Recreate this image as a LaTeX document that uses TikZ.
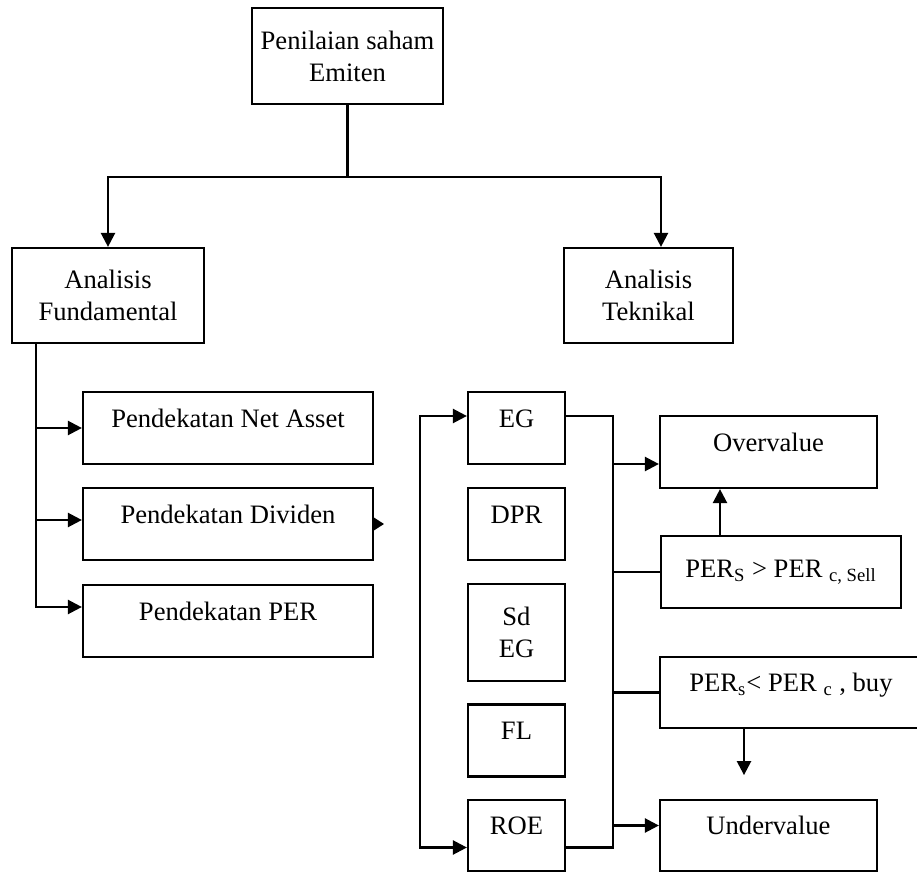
\documentclass[tikz,border=0pt]{standalone}
\usepackage{fontspec}
\setmainfont{Liberation Serif}
\usetikzlibrary{arrows.meta,positioning}

\begin{document}
\begin{tikzpicture}[x=0.5pt,y=-0.5pt,
    box/.style={draw,line width=1.1pt,align=center,inner sep=0pt,font=\fontsize{13.3}{16}\selectfont},
    uptext/.style={text height=9pt,text depth=10pt},
    ln/.style={line width=1.2pt},
    arr/.style={ln,-{Triangle[length=7pt,width=7pt]}},
    dbl/.style={ln,{Triangle[length=7pt,width=7pt]}-{Triangle[length=7pt,width=7pt]}}
  ]
  \useasboundingbox (0,0) rectangle (917,872);
  % top and the two analyses
  \node[box,minimum width=95.5pt,minimum height=48pt] (emiten) at (347.5,56) {Penilaian saham\\Emiten};
  \node[box,minimum width=96pt,minimum height=47.5pt] (fund) at (108,295.5) {Analisis\\Fundamental};
  \node[box,minimum width=84.5pt,minimum height=47.5pt] (tekn) at (648.5,295.5) {Analisis\\Teknikal};
  \draw[ln] (emiten.south) -- ++(0,-36pt) coordinate (split);
  \draw[arr] (split) -| (fund.north);
  \draw[arr] (split) -| ([xshift=6.25pt]tekn.north);

  % pendekatan
  \node[box,uptext,minimum width=145pt,minimum height=36pt] (net) at (228,428) {Pendekatan Net Asset};
  \node[box,uptext,minimum width=145pt,minimum height=36pt] (div) at (228,524) {Pendekatan Dividen};
  \node[box,uptext,minimum width=145pt,minimum height=36pt] (per) at (228,621) {Pendekatan PER};
  \coordinate (fbus) at ([xshift=-36pt]fund.south);
  \draw[arr] (fbus) |- (net.west);
  \draw[arr] (fbus) |- ([yshift=2pt]div.west);
  \draw[arr] (fbus) |- ([yshift=7pt]per.west);
  \draw[ln,-{Triangle[length=5pt,width=6pt]}] (div.east) -- ++(5pt,0);

  % faktor
  \node[box,uptext,minimum width=48.5pt,minimum height=36pt] (eg) at (516.5,428) {EG};
  \node[box,uptext,minimum width=48.5pt,minimum height=36pt] (dpr) at (516.5,524) {DPR};
  \node[box,minimum width=48.5pt,minimum height=48.5pt] (sdeg) at (516.5,632.5) {Sd\\EG};
  \node[box,uptext,minimum width=48.5pt,minimum height=36pt] (fl) at (516.5,740.5) {FL};
  \node[box,uptext,minimum width=48.5pt,minimum height=35.5pt] (roe) at (516.5,835.5) {ROE};
  \draw[dbl] ([yshift=6pt]eg.west) -- ++(-23.5pt,0) |- ([yshift=-6pt]roe.west);
  \draw[ln] ([yshift=6pt]eg.east) -- ++(23.5pt,0) coordinate (rbus) |- ([yshift=-6pt]roe.east);

  % keputusan
  \node[box,uptext,minimum width=108.5pt,minimum height=36pt] (over) at (768.5,452) {Overvalue};
  \node[box,minimum width=120pt,minimum height=36pt] (sell) at (781,572) {PER\textsubscript{S} > PER \textsubscript{c, Sell}};
  \node[box,uptext,minimum width=131pt,minimum height=35.5pt] (buy) at (791,692.5) {PER\textsubscript{s}< PER \textsubscript{c} , buy};
  \node[box,uptext,minimum width=108.5pt,minimum height=35.5pt] (under) at (768.5,835.5) {Undervalue};
  \coordinate (ovin) at ([yshift=-6pt]over.west);
  \coordinate (unin) at ([yshift=5pt]under.west);
  \coordinate (sellup) at ([xshift=-30.5pt]sell.north);
  \draw[arr] (ovin -| rbus) -- (ovin);
  \draw[ln] (sell.west -| rbus) -- (sell.west);
  \draw[ln] (buy.west -| rbus) -- (buy.west);
  \draw[arr] (unin -| rbus) -- (unin);
  \draw[arr] (sellup) -- (sellup |- over.south);
  \draw[arr] ([xshift=-23.5pt]buy.south) -- ++(0,-23pt) coordinate (buyend);
\end{tikzpicture}
\end{document}
